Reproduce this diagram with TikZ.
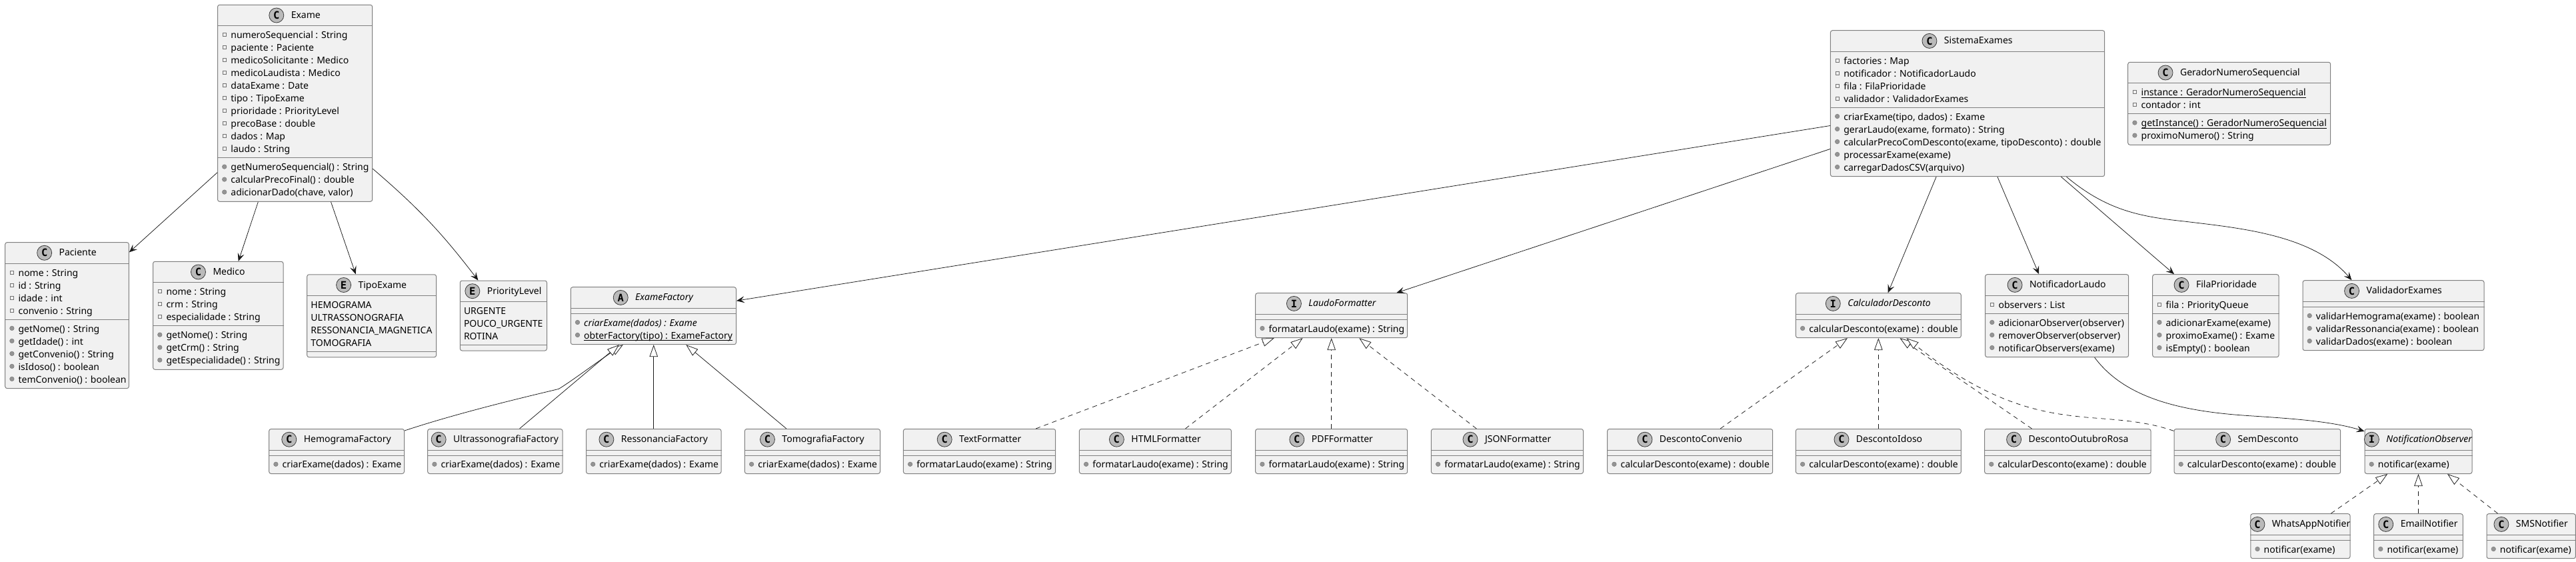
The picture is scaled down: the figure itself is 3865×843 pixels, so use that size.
\documentclass[tikz,border=0pt]{standalone}
\usepackage{fontspec}
\setmainfont{Noto Sans}
\newfontfamily\kindfont{DejaVu Sans Mono}
\usetikzlibrary{positioning,arrows.meta,shapes.geometric}
\definecolor{boxfill}{HTML}{F1F1F1}
\definecolor{boxline}{HTML}{7F7F7F}
\definecolor{edgeline}{HTML}{181818}
\tikzset{
	classbody/.style={draw=boxline, fill=boxfill, line width=1pt, rounded corners=3pt, inner sep=0pt},
	classline/.style={draw=boxline, line width=1pt},
	classkind/.style={circle, draw=edgeline!85, fill=black!27, line width=.8pt, minimum size=22pt, inner sep=0pt, font=\kindfont\bfseries\fontsize{15.5}{16}\selectfont},
	classtitle/.style={anchor=base, inner sep=0pt, text height=12.5pt, text depth=3.5pt, font=\fontsize{14}{19}\selectfont},
	rowtext/.style={anchor=base west, inner sep=0pt, font=\fontsize{14}{19}\selectfont},
	fieldmark/.style={rectangle, draw=black!55, fill=boxfill, line width=.6pt, minimum size=5pt, inner sep=0pt},
	methodmark/.style={circle, draw=black!50, fill=black!42, line width=.6pt, minimum size=6.5pt, inner sep=0pt},
	assoc/.style={draw=edgeline, line width=.75pt, -{Stealth[length=12pt,width=10pt,inset=5pt]}},
	inherit/.style={draw=edgeline, line width=.75pt, -{Triangle[fill=white,length=18pt,width=12.5pt,line width=.75pt]}},
	realize/.style={inherit, dash pattern=on 7pt off 6pt},
}
% underlined row, rule close under the baseline
\newcommand{\staticrow}[1]{\setbox0\hbox{#1}\rlap{\rule[-2.7pt]{\wd0}{.9pt}}\box0}
% name, kind, left, top, right, fields, methods, title
\newcommand{\umlbox}[8]{
	\pgfmathsetmacro{\boxw}{#5-#3}
	\pgfmathsetmacro{\boxh}{48+(#6+#7)*19}
	\pgfmathsetmacro{\sepy}{40+#6*19}
	\node[classbody, minimum width=\boxw pt, minimum height=\boxh pt] (#1) at ({(#3+#5)/2},{#4+\boxh/2}) {};
	\draw[classline] ([yshift=-32pt]#1.north west) -- ([yshift=-32pt]#1.north east);
	\draw[classline] ([yshift=-\sepy pt]#1.north west) -- ([yshift=-\sepy pt]#1.north east);
	\node[classtitle] (#1title) at ([xshift=16.2pt,yshift=-20.7pt]#1.north) {#8};
	\node[classkind, left=10.4pt of #1title] (#1kind) {#2};
}
% name, top of section, mark, rows
\newcommand{\umlrows}[4]{
	\foreach \rowlabel [count=\i] in {#4}{
		\pgfmathsetmacro{\rowy}{#2+18.9+(\i-1)*19}
		\pgfmathsetmacro{\marky}{\rowy-5.6}
		\node[rowtext] (#1#3\i) at ([xshift=20.2pt,yshift=-\rowy pt]#1.north west) {\rowlabel};
		\node[#3] (#1#3dot\i) at ([xshift=10.7pt,yshift=-\marky pt]#1.north west) {};
	}
}
\newcommand{\fieldrows}[2]{\umlrows{#1}{32}{fieldmark}{#2}}
\newcommand{\methodrows}[3]{
	\pgfmathsetmacro{\secy}{40+#2*19}
	\umlrows{#1}{\secy}{methodmark}{#3}
}
\newcommand{\enumrows}[2]{
	\foreach \rowlabel [count=\i] in {#2}{
		\pgfmathsetmacro{\rowy}{32+18.9+(\i-1)*19}
		\node[rowtext] (#1item\i) at ([xshift=6pt,yshift=-\rowy pt]#1.north west) {\rowlabel};
	}
}
\begin{document}
\begin{tikzpicture}[x=1pt,y=-1pt]
	\useasboundingbox (0,0) rectangle (3865,843);

	% Nodes, left part
	\umlbox{exame}{C}{326.5}{7.3}{558.7}{10}{3}{Exame}
	\fieldrows{exame}{numeroSequencial : String, paciente : Paciente, medicoSolicitante : Medico, medicoLaudista : Medico, dataExame : Date, tipo : TipoExame, prioridade : PriorityLevel, precoBase : double, dados : Map, laudo : String}
	\methodrows{exame}{10}{getNumeroSequencial() : String, calcularPrecoFinal() : double, {adicionarDado(chave, valor)}}

	\umlbox{paciente}{C}{7.7}{363.6}{193.4}{4}{5}{Paciente}
	\fieldrows{paciente}{nome : String, id : String, idade : int, convenio : String}
	\methodrows{paciente}{4}{getNome() : String, getIdade() : int, getConvenio() : String, isIdoso() : boolean, temConvenio() : boolean}

	\umlbox{medico}{C}{229.6}{392.3}{425}{3}{3}{Medico}
	\fieldrows{medico}{nome : String, crm : String, especialidade : String}
	\methodrows{medico}{3}{getNome() : String, getCrm() : String, getEspecialidade() : String}

	\umlbox{tipoexame}{E}{460.7}{411.8}{654.6}{4}{0}{TipoExame}
	\enumrows{tipoexame}{HEMOGRAMA, ULTRASSONOGRAFIA, RESSONANCIA\_MAGNETICA, TOMOGRAFIA}

	\umlbox{priority}{E}{690.3}{421}{820.5}{3}{0}{PriorityLevel}
	\enumrows{priority}{URGENTE, POUCO\_URGENTE, ROTINA}

	% Factories
	\umlbox{examefactory}{A}{856.3}{430.7}{1104.5}{0}{2}{\itshape ExameFactory}
	\methodrows{examefactory}{0}{{\itshape criarExame(dados) : Exame}, {\staticrow{obterFactory(tipo) : ExameFactory}}}

	\umlbox{hemograma}{C}{403.7}{643.5}{606.5}{0}{1}{HemogramaFactory}
	\methodrows{hemograma}{0}{criarExame(dados) : Exame}
	\umlbox{ultrassom}{C}{641.7}{643.5}{844}{0}{1}{UltrassonografiaFactory}
	\methodrows{ultrassom}{0}{criarExame(dados) : Exame}
	\umlbox{ressonancia}{C}{879.5}{643.5}{1082}{0}{1}{RessonanciaFactory}
	\methodrows{ressonancia}{0}{criarExame(dados) : Exame}
	\umlbox{tomografia}{C}{1117.4}{643.5}{1320.5}{0}{1}{TomografiaFactory}
	\methodrows{tomografia}{0}{criarExame(dados) : Exame}

	% Formatters
	\umlbox{laudo}{I}{1883.7}{439.7}{2111.7}{0}{1}{\itshape LaudoFormatter}
	\methodrows{laudo}{0}{formatarLaudo(exame) : String}

	\umlbox{textfmt}{C}{1355.4}{643.5}{1583.7}{0}{1}{TextFormatter}
	\methodrows{textfmt}{0}{formatarLaudo(exame) : String}
	\umlbox{htmlfmt}{C}{1619.4}{643.5}{1847.4}{0}{1}{HTMLFormatter}
	\methodrows{htmlfmt}{0}{formatarLaudo(exame) : String}
	\umlbox{pdffmt}{C}{1883.7}{643.5}{2111.7}{0}{1}{PDFFormatter}
	\methodrows{pdffmt}{0}{formatarLaudo(exame) : String}
	\umlbox{jsonfmt}{C}{2147.4}{643.5}{2375.5}{0}{1}{JSONFormatter}
	\methodrows{jsonfmt}{0}{formatarLaudo(exame) : String}

	% Descontos
	\umlbox{calculador}{I}{2694.4}{439.7}{2942.3}{0}{1}{\itshape CalculadorDesconto}
	\methodrows{calculador}{0}{calcularDesconto(exame) : double}

	\umlbox{convenio}{C}{2411.7}{643.5}{2659.7}{0}{1}{DescontoConvenio}
	\methodrows{convenio}{0}{calcularDesconto(exame) : double}
	\umlbox{idoso}{C}{2694.4}{643.5}{2942.3}{0}{1}{DescontoIdoso}
	\methodrows{idoso}{0}{calcularDesconto(exame) : double}
	\umlbox{outubro}{C}{2977.6}{643.5}{3227}{0}{1}{DescontoOutubroRosa}
	\methodrows{outubro}{0}{calcularDesconto(exame) : double}
	\umlbox{semdesconto}{C}{3262}{643.5}{3511.7}{0}{1}{SemDesconto}
	\methodrows{semdesconto}{0}{calcularDesconto(exame) : double}

	% Sistema
	\umlbox{sistema}{C}{2746.4}{45.7}{3157.7}{4}{5}{SistemaExames}
	\fieldrows{sistema}{factories : Map, notificador : NotificadorLaudo, fila : FilaPrioridade, validador : ValidadorExames}
	\methodrows{sistema}{4}{{criarExame(tipo, dados) : Exame}, {gerarLaudo(exame, formato) : String}, {calcularPrecoComDesconto(exame, tipoDesconto) : double}, processarExame(exame), carregarDadosCSV(arquivo)}

	\umlbox{gerador}{C}{3192.7}{93.3}{3496.7}{2}{2}{GeradorNumeroSequencial}
	\fieldrows{gerador}{{\staticrow{instance : GeradorNumeroSequencial}}, contador : int}
	\methodrows{gerador}{2}{{\staticrow{getInstance() : GeradorNumeroSequencial}}, proximoNumero() : String}

	\umlbox{notificador}{C}{2978.6}{411.7}{3193.7}{1}{3}{NotificadorLaudo}
	\fieldrows{notificador}{observers : List}
	\methodrows{notificador}{1}{adicionarObserver(observer), removerObserver(observer), notificarObservers(exame)}

	\umlbox{fila}{C}{3229.7}{411.7}{3419}{1}{3}{FilaPrioridade}
	\fieldrows{fila}{fila : PriorityQueue}
	\methodrows{fila}{1}{adicionarExame(exame), proximoExame() : Exame, isEmpty() : boolean}

	\umlbox{validador}{C}{3455}{420.7}{3727}{0}{3}{ValidadorExames}
	\methodrows{validador}{0}{validarHemograma(exame) : boolean, validarRessonancia(exame) : boolean, validarDados(exame) : boolean}

	% Observers
	\umlbox{observer}{I}{3548}{643.5}{3709}{0}{1}{\itshape NotificationObserver}
	\methodrows{observer}{0}{notificar(exame)}
	\umlbox{whatsapp}{C}{3376.8}{770.7}{3526}{0}{1}{WhatsAppNotifier}
	\methodrows{whatsapp}{0}{notificar(exame)}
	\umlbox{email}{C}{3561.6}{770.7}{3695.3}{0}{1}{EmailNotifier}
	\methodrows{email}{0}{notificar(exame)}
	\umlbox{sms}{C}{3731}{770.7}{3864.4}{0}{1}{SMSNotifier}
	\methodrows{sms}{0}{notificar(exame)}

	% Edges
	\draw[assoc] ([yshift=44pt]exame.south west) -- ([yshift=-15.3pt]paciente.north east);
	\draw[assoc] ([xshift=61.3pt]exame.south west) -- ([xshift=128.6pt]medico.north west);
	\draw[assoc] ([xshift=170.5pt]exame.south west) -- ([xshift=73.5pt]tipoexame.north west);
	\draw[assoc] ([yshift=49.7pt]exame.south east) to[bend left=6] ([xshift=27.6pt]priority.north west);

	\draw[assoc] ([yshift=-143.3pt]sistema.north west) -- ([yshift=-21pt]examefactory.north east);
	\draw[assoc] ([yshift=-178.3pt]sistema.north west) -- ([xshift=212.2pt]laudo.north west);
	\draw[assoc] ([xshift=159.2pt]sistema.south west) -- ([xshift=138.8pt]calculador.north west);
	\draw[assoc] ([xshift=251pt]sistema.south west) -- ([xshift=81.1pt]notificador.north west);
	\draw[assoc] ([xshift=346.5pt]sistema.south west) -- ([xshift=32.8pt]fila.north west);
	\draw[assoc] ([xshift=354.6pt]sistema.south west) .. controls (3160,315) and (3210,325) .. (3277,332) .. controls (3360,342) and (3470,352) .. ([xshift=73.9pt]validador.north west);
	\draw[assoc] ([xshift=164.6pt]notificador.south west) .. controls (3190,600) and (3280,618) .. (3380,624) .. controls (3440,628) and (3500,632) .. ([yshift=-4pt]observer.north west);

	\draw[inherit] ([yshift=-3pt]hemograma.north east) .. controls (700,615) and (825,587) .. (838.5,583.3) .. controls (860,570) and (900,540) .. ([xshift=79pt]examefactory.south west);
	\draw[inherit] ([xshift=138.3pt]ultrassom.north west) -- ([xshift=73.1pt]examefactory.south west);
	\draw[inherit] (ressonancia.north) -- (ressonancia.north |- examefactory.south);
	\draw[inherit] ([xshift=63pt]tomografia.north west) -- ([xshift=173.6pt]examefactory.south west);

	\draw[realize] ([xshift=199.2pt]textfmt.north west) -- ([xshift=28.5pt]laudo.south west);
	\draw[realize] ([xshift=159.6pt]htmlfmt.north west) -- ([xshift=71.3pt]laudo.south west);
	\draw[realize] (pdffmt.north) -- (laudo.south);
	\draw[realize] ([xshift=68.4pt]jsonfmt.north west) -- ([xshift=156.1pt]laudo.south west);

	\draw[realize] ([xshift=169.9pt]convenio.north west) -- ([xshift=78pt]calculador.south west);
	\draw[realize] (idoso.north) -- (calculador.south);
	\draw[realize] ([xshift=71.4pt]outubro.north west) -- ([xshift=156.6pt]calculador.south west);
	\draw[realize] ([yshift=-3.4pt]semdesconto.north west) .. controls (3220,632) and (3180,630) .. (3130,626) .. controls (3070,620) and (2990,610) .. ([xshift=166.6pt]calculador.south west);

	\draw[realize] ([xshift=121pt]whatsapp.north west) -- ([xshift=34.7pt]observer.south west);
	\draw[realize] (email.north) -- (email.north |- observer.south);
	\draw[realize] ([xshift=17pt]sms.north west) -- ([xshift=124.6pt]observer.south west);
\end{tikzpicture}
\end{document}
